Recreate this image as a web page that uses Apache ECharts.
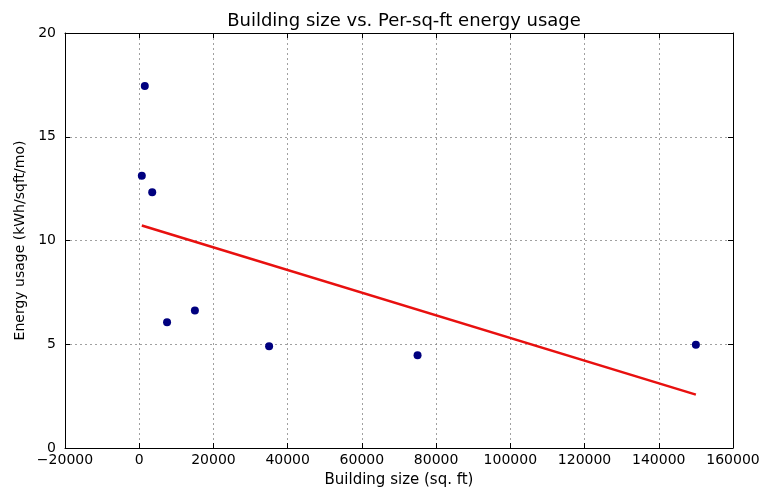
<!DOCTYPE html>
<html><head><meta charset="utf-8">
<script src="https://cdn.jsdelivr.net/npm/echarts@6/dist/echarts.min.js"></script>
<style>html,body{margin:0;padding:0;background:#fff}#c{width:763px;height:493px}</style>
</head><body><div id="c"></div>
<script>
var buildingSize = [1500, 700, 3500, 7500, 15000, 35000, 75000, 150000];
var energyUsage = [17.44, 13.12, 12.32, 6.06, 6.63, 4.9, 4.47, 4.98];
var fitX = [700, 150000];
var fitY = [10.72, 2.57];
var xTicks = {min: -20000, max: 160000, interval: 20000};
var yTicks = {min: 0, max: 20, interval: 5};

var pts = buildingSize.map(function(x, i){ return [x, energyUsage[i]]; });
var fit = fitX.map(function(x, i){ return [x, fitY[i]]; });
var font = 'DejaVu Sans';
function fmt(v){ return String(v).replace('-', '\u2212'); }
var axisLine = {show: true, onZero: false, lineStyle: {color: '#000', width: 1}};
var tick = {show: true, inside: true, length: 5, lineStyle: {color: '#000'}};
var grid = {show: true, lineStyle: {color: '#888', type: [2, 3], width: 0.8}};
var chart = echarts.init(document.getElementById('c'), null, {renderer: 'canvas'});
chart.setOption({
  animation: false,
  backgroundColor: '#fff',
  title: {text: 'Building size vs. Per-sq-ft energy usage', left: 399, top: 7, textAlign: 'center',
    textStyle: {fontFamily: font, fontSize: 18, fontWeight: 'normal', color: '#000'}},
  grid: {left: 65, right: 30, top: 33, bottom: 44, containLabel: false},
  xAxis: [{type: 'value', min: xTicks.min, max: xTicks.max, interval: xTicks.interval,
    name: 'Building size (sq. ft)', nameLocation: 'middle', nameGap: 25,
    nameTextStyle: {fontFamily: font, fontSize: 15, color: '#000'},
    axisLine: axisLine, axisTick: tick, splitLine: grid,
    axisLabel: {fontFamily: font, fontSize: 14, color: '#000', margin: 5, formatter: fmt}},
    {type: 'value', position: 'top', min: xTicks.min, max: xTicks.max, interval: xTicks.interval,
    axisLine: axisLine, axisTick: tick, splitLine: {show: false}, axisLabel: {show: false}}],
  yAxis: [{type: 'value', min: yTicks.min, max: yTicks.max, interval: yTicks.interval,
    name: 'Energy usage (kWh/sqft/mo)', nameLocation: 'middle', nameGap: 37,
    nameTextStyle: {fontFamily: font, fontSize: 14, color: '#000'},
    axisLine: axisLine, axisTick: tick, splitLine: grid,
    axisLabel: {fontFamily: font, fontSize: 14, color: '#000', margin: 9}},
    {type: 'value', position: 'right', min: yTicks.min, max: yTicks.max, interval: yTicks.interval,
    axisLine: axisLine, axisTick: tick, splitLine: {show: false}, axisLabel: {show: false}}],
  series: [
    {type: 'scatter', data: pts, symbol: 'circle', symbolSize: 8,
      itemStyle: {color: '#00007f', opacity: 1}, z: 3},
    {type: 'line', data: fit, showSymbol: false, symbol: 'none',
      lineStyle: {color: '#e8100f', width: 2.5}, z: 2}
  ]
});
</script></body></html>
